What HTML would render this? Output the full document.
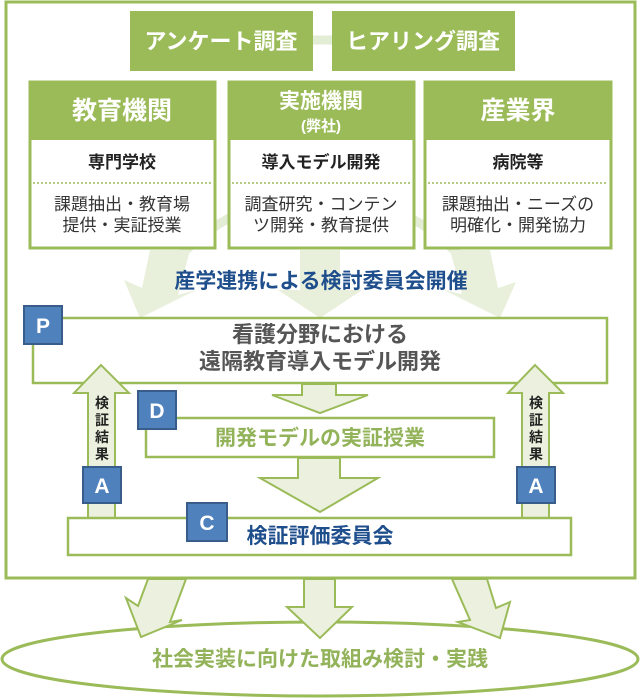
<!DOCTYPE html>
<html><head><meta charset="utf-8"><style>
body{margin:0;background:#fff;}
svg{display:block;font-family:"Liberation Sans","Noto Sans CJK JP",sans-serif;}
.w{font-weight:bold;}
</style></head><body>
<svg width="641" height="698" viewBox="0 0 641 698" xmlns="http://www.w3.org/2000/svg">
<rect x="6" y="2" width="629" height="576" fill="#fff" stroke="#9bbb59" stroke-width="3"/>
<g fill="none" stroke="#e3ecd4" stroke-width="9">
<path d="M150 300 A190 190 0 0 1 490 300"/>
<path d="M312 40 L332 40"/>
</g>
<g fill="#e8efdb">
<polygon points="150,250 190,250 178,295 196,290 140,318 124,280 142,288"/>
<polygon points="300,250 340,250 340,290 362,290 320,318 278,290 300,290"/>
<polygon points="450,250 490,250 498,288 516,282 500,318 444,290 462,294"/>
</g>
<rect x="130" y="11" width="183" height="60" fill="#9bbb59"/>
<rect x="332" y="11" width="183" height="60" fill="#9bbb59"/>
<text x="221" y="49" font-size="22" fill="#fff" text-anchor="middle" class="w">アンケート調査</text>
<text x="423" y="49" font-size="22" fill="#fff" text-anchor="middle" class="w">ヒアリング調査</text>
<g>
<rect x="30" y="82" width="185" height="166" fill="#fff" stroke="#9bbb59" stroke-width="3"/>
<rect x="29" y="82" width="187" height="58" fill="#9bbb59"/>
<rect x="229" y="82" width="185" height="166" fill="#fff" stroke="#9bbb59" stroke-width="3"/>
<rect x="228" y="82" width="187" height="58" fill="#9bbb59"/>
<rect x="425" y="82" width="186" height="166" fill="#fff" stroke="#9bbb59" stroke-width="3"/>
<rect x="424" y="82" width="188" height="58" fill="#9bbb59"/>
<g stroke="#9bbb59" stroke-width="1.5" stroke-dasharray="2,2">
<line x1="33" y1="183" x2="212" y2="183"/><line x1="232" y1="183" x2="411" y2="183"/><line x1="428" y1="183" x2="608" y2="183"/>
</g>
<text x="122" y="119" font-size="25" fill="#fff" text-anchor="middle" class="w">教育機関</text>
<text x="321" y="108" font-size="21" fill="#fff" text-anchor="middle" class="w">実施機関</text>
<text x="321" y="131" font-size="15" fill="#fff" text-anchor="middle" class="w">(弊社)</text>
<text x="518" y="119" font-size="25" fill="#fff" text-anchor="middle" class="w">産業界</text>
<text x="122" y="168" font-size="17" fill="#222" text-anchor="middle" class="w">専門学校</text>
<text x="321" y="168" font-size="17" fill="#222" text-anchor="middle" class="w">導入モデル開発</text>
<text x="518" y="168" font-size="17" fill="#222" text-anchor="middle" class="w">病院等</text>
<g font-size="17" fill="#333" text-anchor="middle">
<text x="122" y="210">課題抽出・教育場</text><text x="122" y="231">提供・実証授業</text>
<text x="321" y="210">調査研究・コンテン</text><text x="321" y="231">ツ開発・教育提供</text>
<text x="518" y="210">課題抽出・ニーズの</text><text x="518" y="231">明確化・開発協力</text>
</g>
</g>
<text x="321" y="288" font-size="21" fill="#1f4e8c" text-anchor="middle" class="w">産学連携による検討委員会開催</text>
<rect x="33" y="318" width="574" height="65" fill="#fff" stroke="#9bbb59" stroke-width="2.5"/>
<text x="320" y="342" font-size="22" fill="#555" text-anchor="middle" class="w">看護分野における</text>
<text x="320" y="369" font-size="22" fill="#555" text-anchor="middle" class="w">遠隔教育導入モデル開発</text>
<g fill="#ebf1de" stroke="#9bbb59" stroke-width="2">
<polygon points="302,384 336,384 336,395 368,395 320,413 272,395 302,395"/>
<polygon points="298,458 340,458 340,478 378,478 320,512 260,478 298,478"/>
<polygon points="88,518 88,393 74,393 101,365 129,393 115,393 115,518"/>
<polygon points="522,518 522,393 508,393 535,365 563,393 549,393 549,518"/>
</g>
<rect x="146" y="418" width="348" height="39" fill="#fff" stroke="#9bbb59" stroke-width="2.5"/>
<text x="320" y="445" font-size="21" fill="#93b35a" text-anchor="middle" class="w">開発モデルの実証授業</text>
<rect x="68" y="518" width="503" height="37" fill="#fff" stroke="#9bbb59" stroke-width="2.5"/>
<text x="320" y="543" font-size="21" fill="#1f4e8c" text-anchor="middle" class="w">検証評価委員会</text>
<g font-size="14" fill="#222" text-anchor="middle" class="w">
<text x="102" y="408">検</text><text x="102" y="425">証</text><text x="102" y="442">結</text><text x="102" y="459">果</text>
<text x="536" y="408">検</text><text x="536" y="425">証</text><text x="536" y="442">結</text><text x="536" y="459">果</text>
</g>
<g fill="#4f81bd" stroke="#385d8a" stroke-width="2">
<rect x="24" y="306" width="38" height="38"/>
<rect x="138" y="391" width="38" height="38"/>
<rect x="83" y="467" width="38" height="36"/>
<rect x="517" y="467" width="38" height="36"/>
<rect x="187" y="503" width="40" height="38"/>
</g>
<g font-size="21" fill="#fff" text-anchor="middle" class="w">
<text x="43" y="333">P</text><text x="157" y="418">D</text><text x="102" y="493">A</text><text x="536" y="493">A</text><text x="207" y="530">C</text>
</g>
<ellipse cx="320" cy="659" rx="318" ry="37" fill="#fff" stroke="#9bbb59" stroke-width="3"/>
<g fill="#ebf1de" stroke="#9bbb59" stroke-width="2">
<polygon points="148,579 186,579 170,622 182,620 141,637 126,598 138,606"/>
<polygon points="304,579 335,579 335,607 352,607 320,638 287,607 304,607"/>
<polygon points="452,579 487,579 496,608 510,602 500,638 458,622 470,620"/>
</g>
<text x="320" y="666" font-size="21" fill="#93b35a" text-anchor="middle" class="w">社会実装に向けた取組み検討・実践</text>
</svg>
</body></html>
